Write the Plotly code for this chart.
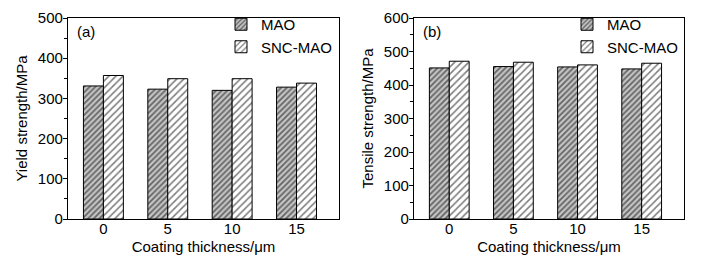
import plotly.graph_objects as go
from plotly.subplots import make_subplots

thickness = ["0", "5", "10", "15"]
yield_mao = [331, 323, 320, 328]
yield_snc = [357, 349, 349, 338]
tensile_mao = [451, 455, 454, 448]
tensile_snc = [471, 468, 460, 465]

FONT = "Liberation Sans, Arial, sans-serif"
W, H, OFF = 701, 257, 8  # page body margin offset


def px(xp):
    return (xp - OFF) / W


def py(yp):
    return 1 - (yp - OFF) / H


fig = make_subplots(rows=1, cols=2)

mao_pattern = dict(shape="/", fgcolor="black", bgcolor="#c4c4c4", size=4, solidity=0.42, fillmode="overlay")
snc_pattern = dict(shape="/", fgcolor="black", bgcolor="white", size=5, solidity=0.32, fillmode="overlay")


def add_pair(col, mao, snc, leg):
    fig.add_trace(go.Bar(x=thickness, y=mao, name="MAO", legend=leg,
                         marker=dict(color="#c4c4c4", pattern=mao_pattern,
                                     line=dict(color="black", width=1))), row=1, col=col)
    fig.add_trace(go.Bar(x=thickness, y=snc, name="SNC-MAO", legend=leg,
                         marker=dict(color="white", pattern=snc_pattern,
                                     line=dict(color="black", width=1))), row=1, col=col)


add_pair(1, yield_mao, yield_snc, "legend")
add_pair(2, tensile_mao, tensile_snc, "legend2")

ydom = [py(219), py(18)]
xdom1 = [px(68), px(339)]
xdom2 = [px(414), px(684)]

axis_common = dict(showline=True, linecolor="black", linewidth=1.2, mirror=True,
                   showgrid=False, zeroline=False, automargin=False,
                   ticklabeloverflow="allow",
                   tickfont=dict(family=FONT, size=15, color="black"))

fig.update_xaxes(axis_common)
fig.update_yaxes(axis_common)

xt = dict(font=dict(family=FONT, size=15, color="black"), standoff=5)
fig.update_layout(
    xaxis=dict(domain=xdom1, type="category", range=[-0.55, 3.66], ticks="", ticklabelstandoff=-4,
               title=dict(text="Coating thickness/μm", **xt)),
    xaxis2=dict(domain=xdom2, type="category", range=[-0.55, 3.66], ticks="", ticklabelstandoff=-4,
                title=dict(text="Coating thickness/μm", **xt)),
    yaxis=dict(domain=ydom, range=[0, 500], dtick=100, ticks="outside", ticklen=4, tickcolor="black",
               ticklabelstandoff=-3,
               minor=dict(dtick=50, ticks="outside", ticklen=3, tickcolor="black"),
               title=dict(text="Yield strength/MPa", font=dict(family=FONT, size=15, color="black"), standoff=6)),
    yaxis2=dict(domain=ydom, range=[0, 600], dtick=100, ticks="outside", ticklen=4, tickcolor="black",
                ticklabelstandoff=-3,
                minor=dict(dtick=50, ticks="outside", ticklen=3, tickcolor="black"),
                title=dict(text="Tensile strength/MPa", font=dict(family=FONT, size=15, color="black"), standoff=6)),
    barmode="group", bargap=0.38, bargroupgap=0,
    width=W, height=H,
    margin=dict(l=0, r=0, t=0, b=0, autoexpand=False),
    paper_bgcolor="white", plot_bgcolor="white",
    font=dict(family=FONT, size=15, color="black"),
    legend=dict(x=px(337), xanchor="right", y=1.0, yanchor="top",
                bgcolor="rgba(0,0,0,0)", font=dict(family=FONT, size=15, color="black"),
                tracegroupgap=0, itemwidth=30),
    legend2=dict(x=px(683), xanchor="right", y=1.0, yanchor="top",
                 bgcolor="rgba(0,0,0,0)", font=dict(family=FONT, size=15, color="black"),
                 tracegroupgap=0, itemwidth=30),
    showlegend=True,
)

fig.add_annotation(text="(a)", xref="paper", yref="paper", x=px(75), y=py(31),
                   xanchor="left", yanchor="middle", showarrow=False,
                   font=dict(family=FONT, size=15, color="black"))
fig.add_annotation(text="(b)", xref="paper", yref="paper", x=px(421), y=py(31),
                   xanchor="left", yanchor="middle", showarrow=False,
                   font=dict(family=FONT, size=15, color="black"))

fig.write_html("out.html")
